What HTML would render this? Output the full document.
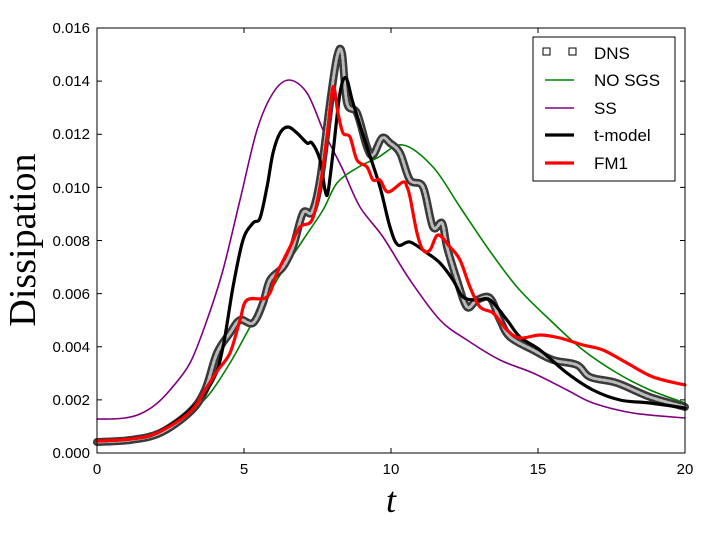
<!DOCTYPE html>
<html><head><style>body{margin:0;background:#fff}svg{display:block}</style></head><body>
<svg id="s" width="720" height="534" xmlns="http://www.w3.org/2000/svg" font-family="Liberation Sans, sans-serif">
<rect width="720" height="534" fill="#fff"/>
<g fill="none" stroke-linejoin="round" stroke-linecap="round">
<!-- SS -->
<polyline class="c" stroke="#800080" stroke-width="1.6" points="97,419 110,419 125,418 140,414 155,405 170,390 190,363 207,320 223,270 240,200 257,130 273,93 289,80 307,93 323,130 333,150 343,170 360,207 383,237 410,280 440,320 467,340 500,360 533,373 567,390 593,403 633,413 685,418"/>
<!-- NO SGS -->
<polyline class="c" stroke="#008000" stroke-width="1.6" points="97,441 130,439 160,432 180,420 207,397 230,363 250,327 277,280 303,240 323,210 337,183 357,168 377,158 403,145 433,167 460,207 487,247 517,287 550,320 583,350 617,373 650,390 685,403"/>
<!-- DNS -->
<polyline class="c" stroke="#3a3a3a" stroke-width="8" points="97,442 130,440 160,433 190,412 205,390 217,353 230,333 240,320 253,323 263,303 270,280 283,267 293,247 303,213 312,212 320,180 330,103 337,57 342,53 347,103 357,113 367,147 373,155 382,138 390,143 400,153 410,180 423,187 433,227 442,223 447,247 457,280 467,307 477,300 490,298 500,320 510,337 533,350 553,360 577,365 590,377 617,383 650,397 685,407"/>
<polyline class="c" stroke="#bbb" stroke-width="3" stroke-dasharray="3 2" points="97,442 130,440 160,433 190,412 205,390 217,353 230,333 240,320 253,323 263,303 270,280 283,267 293,247 303,213 312,212 320,180 330,103 337,57 342,53 347,103 357,113 367,147 373,155 382,138 390,143 400,153 410,180 423,187 433,227 442,223 447,247 457,280 467,307 477,300 490,298 500,320 510,337 533,350 553,360 577,365 590,377 617,383 650,397 685,407"/>
<!-- t-model -->
<polyline class="c" stroke="#000" stroke-width="3.2" points="97,441 130,439 157,433 190,410 213,380 223,347 233,287 243,240 253,223 260,218 267,187 273,153 280,133 288,127 297,133 307,143 312,143 320,160 325,190 328,192 333,153 340,93 346,78 353,103 367,147 380,187 390,227 398,245 410,242 427,253 440,263 453,280 463,297 477,300 490,300 507,320 520,337 540,350 567,373 593,390 620,400 650,403 685,408"/>
<!-- FM1 -->
<polyline class="c" stroke="#f00" stroke-width="3.2" points="97,441 130,439 157,433 190,412 207,387 218,370 230,353 240,320 247,300 267,297 277,273 290,247 300,227 312,220 320,187 327,137 333,87 338,113 343,133 350,137 357,160 367,167 373,180 380,180 388,192 403,182 407,187 410,197 417,233 423,250 430,250 438,235 450,247 460,260 470,287 480,307 493,313 507,330 520,338 540,335 560,338 583,345 603,350 627,363 653,377 685,385"/>
</g>
<rect x="97" y="28" width="588" height="425" fill="none" stroke="#000" stroke-width="1"/>
<g stroke="#000" stroke-width="1">
<path d="M244,453v-5M391,453v-5M538,453v-5M244,28v5M391,28v5M538,28v5"/>
<path d="M97,399.9h5M97,346.8h5M97,293.6h5M97,240.5h5M97,187.4h5M97,134.3h5M97,81.1h5M685,399.9h-5M685,346.8h-5M685,293.6h-5M685,240.5h-5M685,187.4h-5M685,134.3h-5M685,81.1h-5"/>
</g>
<g font-size="15" text-anchor="end" fill="#000">
<text x="90" y="458">0.000</text><text x="90" y="405">0.002</text><text x="90" y="352">0.004</text><text x="90" y="299">0.006</text><text x="90" y="246">0.008</text><text x="90" y="193">0.010</text><text x="90" y="139">0.012</text><text x="90" y="86">0.014</text><text x="90" y="33">0.016</text>
</g>
<g font-size="15" text-anchor="middle">
<text x="97" y="474">0</text><text x="244" y="474">5</text><text x="391" y="474">10</text><text x="538" y="474">15</text><text x="685" y="474">20</text>
</g>
<text x="391" y="512" font-family="Liberation Serif, serif" font-style="italic" font-size="36" text-anchor="middle">t</text>
<text transform="translate(35,240) rotate(-90)" font-family="Liberation Serif, serif" font-size="38" text-anchor="middle">Dissipation</text>
<rect x="533" y="37" width="142" height="144" fill="#fff" stroke="#000" stroke-width="1"/>
<rect x="543" y="48" width="7" height="7" fill="none" stroke="#000"/>
<rect x="569" y="48" width="7" height="7" fill="none" stroke="#000"/>
<line x1="545" y1="80" x2="574" y2="80" stroke="#008000" stroke-width="1.6"/>
<line x1="545" y1="108" x2="574" y2="108" stroke="#800080" stroke-width="1.6"/>
<line x1="545" y1="135" x2="574" y2="135" stroke="#000" stroke-width="3.2"/>
<line x1="545" y1="163" x2="574" y2="163" stroke="#f00" stroke-width="3.2"/>
<g font-size="17">
<text x="594" y="59">DNS</text><text x="594" y="86">NO SGS</text><text x="594" y="114">SS</text><text x="594" y="141">t-model</text><text x="594" y="169">FM1</text>
</g>
</svg>
<script>
document.querySelectorAll('polyline.c').forEach(function(pl){
  var p=pl.getAttribute('points').trim().split(/\s+/).map(function(s){return s.split(',').map(Number);});
  var d='M'+p[0][0]+','+p[0][1];
  for(var i=0;i<p.length-1;i++){
    var p0=p[i-1]||p[i],p1=p[i],p2=p[i+1],p3=p[i+2]||p2;
    var c1x=p1[0]+(p2[0]-p0[0])/6,c1y=p1[1]+(p2[1]-p0[1])/6;
    var c2x=p2[0]-(p3[0]-p1[0])/6,c2y=p2[1]-(p3[1]-p1[1])/6;
    d+='C'+c1x.toFixed(1)+','+c1y.toFixed(1)+' '+c2x.toFixed(1)+','+c2y.toFixed(1)+' '+p2[0]+','+p2[1];
  }
  var path=document.createElementNS('http://www.w3.org/2000/svg','path');
  for(var k=0;k<pl.attributes.length;k++){var a=pl.attributes[k];if(a.name!=='points'&&a.name!=='class')path.setAttribute(a.name,a.value);}
  path.setAttribute('d',d);
  pl.parentNode.replaceChild(path,pl);
});
</script>
</body></html>
